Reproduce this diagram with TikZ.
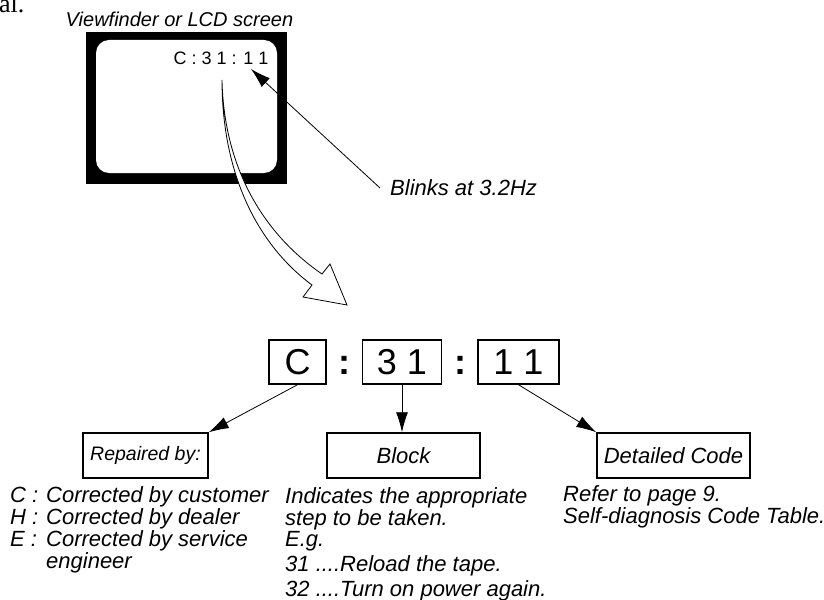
\documentclass[tikz,border=0pt]{standalone}
\usepackage{fontspec}
\setmainfont{Liberation Sans}
\newfontfamily\serifface{Liberation Serif}
\usetikzlibrary{arrows.meta, positioning}
\newcommand\codesize{\fontsize{36bp}{36bp}\selectfont}
\newcommand\notesize{\fontsize{22bp}{21bp}\selectfont\itshape}
\tikzstyle{codebox}=[rectangle, draw=black, line width=1.5bp, inner sep=0pt,
                     minimum height=44bp, font=\codesize]
\tikzstyle{colonmark}=[inner sep=0pt, font=\codesize\bfseries, yshift=-3.5bp]
\tikzstyle{labelbox}=[rectangle, draw=black, line width=1.5bp, inner sep=0pt,
                      minimum width=153bp, minimum height=45bp, font=\notesize]
\tikzstyle{note}=[inner sep=0pt, anchor=base west, font=\notesize]
\tikzstyle{arrow}=[-{Latex[length=20bp, width=12bp]}, line width=0.8bp]

\begin{document}
\begin{tikzpicture}[x=1bp, y=-1bp, node distance=12bp]
  \useasboundingbox (0,0) rectangle (824,600);
  % Cut-off text at the top edge
  \node[anchor=base west, inner sep=0pt,
        font=\serifface\fontsize{26bp}{26bp}\selectfont] (prevpage) at (-1,13) {al.};

  % Screen
  \node[fill=black, inner sep=0pt, minimum width=201bp, minimum height=152bp]
        (frame) at (186.5,108) {};
  \node[fill=white, rounded corners=13bp, inner sep=0pt,
        minimum width=181bp, minimum height=133bp] (screen) at (186.5,106.5) {};
  \node[inner sep=0pt, font=\fontsize{18bp}{18bp}\selectfont]
        (readout) at (221,58.5) {C : 3 1 : 1 1};
  \node[inner sep=0pt, font=\fontsize{20bp}{20bp}\selectfont\itshape]
        (title) at (179.5,19.5) {Viewfinder or LCD screen};

  % Blink note
  \node[note, anchor=west] (blink) at (390,188) {Blinks at 3.2Hz};
  \coordinate (blinktip) at (251,69);
  \draw[arrow] ([xshift=-10bp]blink.west) -- (blinktip);

  % Hollow arrow
  \coordinate (bendtop) at (222,80);
  \coordinate (headtip) at (347,305);
  \draw[fill=white, line width=0.8bp]
        (bendtop) .. controls (224,170) and (265,235) .. (322,274)
        -- (330,264) -- (headtip) -- (303,297) -- (312,285)
        .. controls (258,245) and (222,175) .. (bendtop) -- cycle;

  % Code
  \node[codebox, minimum width=57bp] (repcode) at (297.5,362) {C};
  \node[codebox, minimum width=79bp, right=35bp of repcode] (blkcode) {3 1};
  \node[codebox, minimum width=81bp, right=35bp of blkcode] (detcode) {1 1};
  \node[colonmark, right=of repcode] (colA) {:};
  \node[colonmark, right=of blkcode] (colB) {:};

  % Labels
  \node[labelbox, minimum width=125bp, font=\fontsize{19.5bp}{21bp}\selectfont\itshape]
        (repaired) at (145.5,455.5) {Repaired by:};
  \node[labelbox] (block) at (403.5,455.5) {Block};
  \node[labelbox] (detailed) at (673.5,455.5) {Detailed Code};

  % Arrows
  \draw[arrow] (repcode.south) -- (repaired.north east);
  \draw[arrow] (blkcode.south) -- (blkcode.south |- block.north);
  \draw[arrow] (detcode.south) -- (detailed.north west);

  % Notes
  \node[note] (repnote) at (10,502) {\begin{tabular}[t]{@{}p{36bp}@{}l@{}}
      C : & Corrected by customer\\
      H : & Corrected by dealer\\
      E : & Corrected by service\\
          & engineer\end{tabular}};
  \node[note] (blknote) at (285,503) {\begin{tabular}[t]{@{}l@{}}
      Indicates the appropriate\\
      step to be taken.\\
      E.g.\\[3bp]
      31 ....Reload the tape.\\[2bp]
      32 ....Turn on power again.\end{tabular}};
  \node[note] (detnote) at (563,501) {\begin{tabular}[t]{@{}l@{}}
      Refer to page 9.\\
      Self-diagnosis Code Table.\end{tabular}};
\end{tikzpicture}
\end{document}
